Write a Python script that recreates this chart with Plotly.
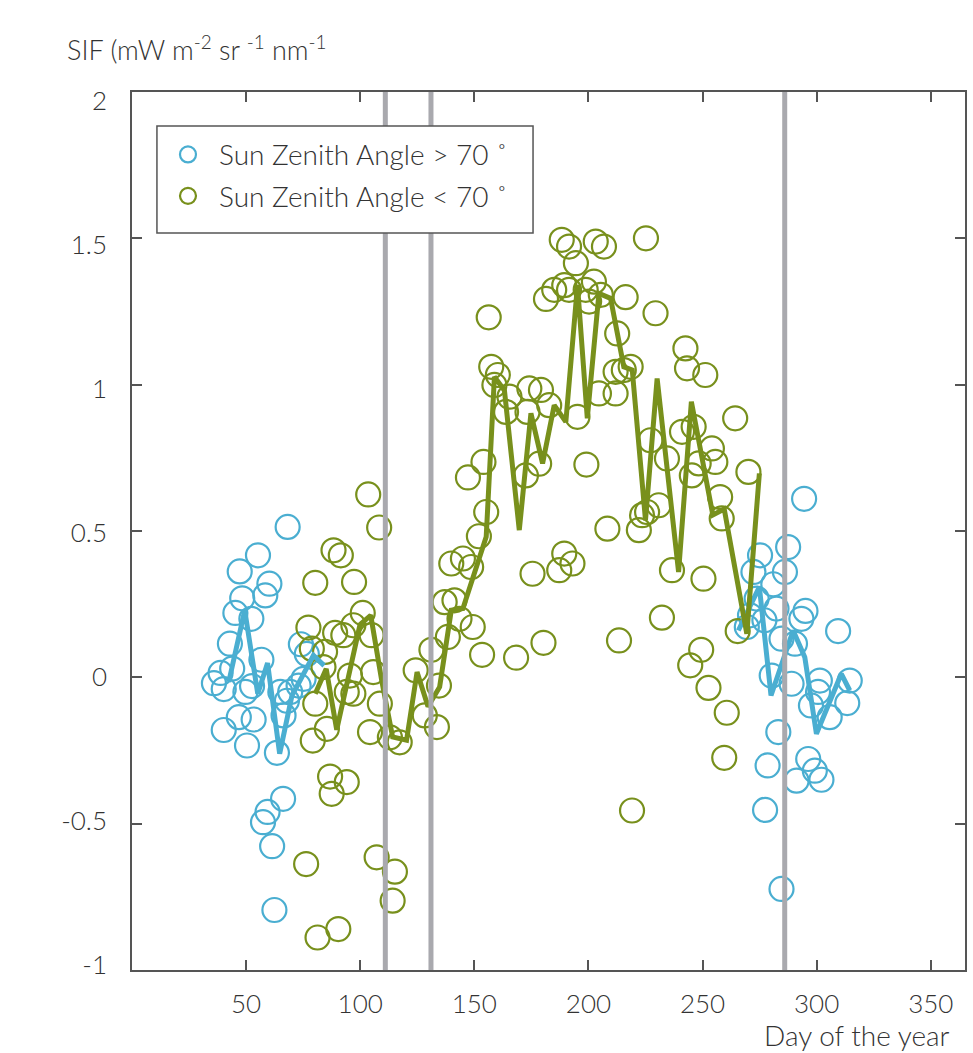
import plotly.graph_objects as go

# ---------------- data ----------------
blue_day = [68.2, 55.2, 47.2, 60.2, 58.4, 48.3, 45.3, 52.3, 42.9, 74.0, 76.6, 56.7, 43.9, 38.8,
            35.9, 40.2, 49.7, 52.6, 65.0, 69.3, 73.0, 75.2, 67.9, 46.8, 53.3, 66.4, 40.2, 50.4,
            63.5, 66.2, 59.4, 57.4, 61.4, 62.4,
            275.2, 272.3, 287.5, 286.1, 294.5, 281.0, 273.7, 282.4, 295.1, 293.3, 277.1, 270.8,
            269.4, 309.4, 284.6, 290.5, 280.3, 289.0, 301.4, 314.5, 300.6, 297.5, 313.4, 305.7,
            283.2, 296.3, 291.2, 302.1, 299.2, 278.5, 277.4, 284.6]
blue_sif = [0.514, 0.417, 0.362, 0.32, 0.28, 0.27, 0.22, 0.20, 0.115, 0.113, 0.08, 0.06, 0.03, 0.015,
            -0.02, -0.04, -0.05, -0.03, -0.05, -0.05, -0.028, -0.005, -0.08, -0.136, -0.144, -0.13, -0.18, -0.233,
            -0.258, -0.415, -0.46, -0.495, -0.577, -0.795,
            0.417, 0.36, 0.445, 0.36, 0.61, 0.318, 0.269, 0.235, 0.227, 0.20, 0.195, 0.212,
            0.172, 0.158, 0.132, 0.115, 0.006, -0.022, -0.011, -0.011, -0.05, -0.096, -0.088, -0.136,
            -0.187, -0.279, -0.353, -0.35, -0.319, -0.301, -0.453, -0.723]

green_day = [103.5, 108.3, 88.3, 91.5, 80.3, 97.3, 101.1, 77.3, 89.0, 92.6, 97.0, 105.0, 78.8, 84.6,
             95.5, 105.7, 83.9, 94.1, 97.0, 80.3, 108.6, 85.4, 104.3, 79.2, 86.8, 94.1, 87.5, 76.3,
             107.2, 115.2, 114.2, 81.3, 90.4, 117.3, 113.0, 128.3, 133.6, 124.3, 134.5, 131.2,
             138.4, 137.0, 141.3, 143.5, 149.3, 153.4, 168.3, 180.3, 213.4, 139.9, 145.0, 148.6,
             152.0, 155.2, 147.2, 154.0, 156.3, 157.4, 160.3, 158.8, 165.4, 163.9, 174.1, 179.2,
             173.3, 182.8, 172.6, 178.4, 175.5, 187.2, 189.4, 193.0, 181.4, 185.0, 188.3, 191.5,
             194.5, 203.2, 206.8, 189.4, 191.5, 198.8, 202.4, 200.3, 205.4, 195.2, 199.1, 204.6,
             211.9, 212.6, 211.9, 208.3, 216.3, 229.4, 242.5, 243.2, 251.2, 218.5, 215.5, 264.3,
             227.2, 241.0, 246.1, 234.4, 254.1, 255.6, 248.3, 245.3, 270.1, 257.7, 258.4, 230.8,
             225.7, 223.5, 222.1, 236.6, 250.4, 265.4, 249.4, 244.6, 252.6, 260.6, 259.5, 219.1,
             232.2, 225.2]
green_sif = [0.625, 0.512, 0.434, 0.417, 0.323, 0.326, 0.22, 0.17, 0.152, 0.144, 0.178, 0.144, 0.098, 0.087,
             0.006, 0.018, 0.035, -0.05, -0.056, -0.09, -0.09, -0.176, -0.187, -0.216, -0.339, -0.358, -0.398, -0.638,
             -0.615, -0.664, -0.763, -0.889, -0.86, -0.222, -0.205, -0.13, -0.17, 0.024, -0.028, 0.094,
             0.138, 0.257, 0.263, 0.20, 0.172, 0.077, 0.067, 0.118, 0.126, 0.389, 0.406, 0.377,
             0.482, 0.565, 0.683, 0.736, 1.23, 1.061, 1.033, 0.999, 0.959, 0.907, 0.987, 0.982,
             0.907, 0.93, 0.69, 0.73, 0.354, 0.366, 0.423, 0.389, 1.293, 1.324, 1.495, 1.472,
             1.415, 1.489, 1.472, 1.34, 1.324, 1.324, 1.352, 1.284, 1.307, 0.89, 0.727, 0.97,
             0.97, 1.175, 1.044, 0.508, 1.299, 1.244, 1.124, 1.056, 1.033, 1.061, 1.05, 0.885,
             0.81, 0.839, 0.856, 0.748, 0.782, 0.736, 0.731, 0.69, 0.702, 0.616, 0.543, 0.588,
             0.565, 0.554, 0.503, 0.366, 0.337, 0.158, 0.094, 0.041, -0.036, -0.121, -0.275, -0.455,
             0.204, 1.50]

# running-mean lines
blue_line1_day = [42.4, 49.4, 55.1, 59.4, 64.7, 70.1, 73.7, 79.5, 84.2]
blue_line1_sif = [-0.016, 0.229, -0.056, 0.049, -0.261, -0.062, -0.01, 0.075, 0.04]
blue_line2_day = [265.7, 274.9, 280.0, 289.7, 294.8, 299.9, 310.8, 314.5]
blue_line2_sif = [0.16, 0.309, -0.062, 0.16, 0.069, -0.193, 0.012, -0.045]

green_line_day = [80.3, 85.1, 89.7, 99.9, 104.6, 109.4, 114.2, 120.3, 124.9, 129.7, 134.8, 139.9,
                  145.0, 155.2, 158.8, 163.2, 169.7, 174.8, 179.9, 185.0, 190.1, 195.2, 199.5,
                  204.6, 209.7, 215.5, 219.2, 225.0, 230.1, 239.5, 245.1, 254.5, 259.5, 269.4, 274.9]
green_line_sif = [-0.056, 0.029, -0.179, 0.18, 0.212, -0.01, -0.204, -0.215, 0.018, -0.1, -0.033, 0.229,
                  0.235, 0.48, 1.027, 0.98, 0.503, 0.902, 0.731, 0.93, 0.873, 1.341, 0.885,
                  1.312, 1.295, 1.061, 1.05, 0.537, 1.021, 0.36, 0.942, 0.555, 0.575, 0.149, 0.697]

vline_days = [111, 131, 286]

x_ticks = [50, 100, 150, 200, 250, 300, 350]
y_ticks = [-1, -0.5, 0, 0.5, 1, 1.5, 2]
y_ticklabels = ["-1", "-0.5", "0", "0.5", "1", "1.5", "2"]

legend_names = ["Sun Zenith Angle > 70 \u02da", "Sun Zenith Angle < 70 \u02da"]

# ---------------- style ----------------
BLUE = "#4aaed1"
GREEN = "#78901c"
GREY = "#a9a9ae"
TXT = "#333333"
FONT = "Lato, 'Open Sans', sans-serif"
W8 = 300

fig = go.Figure()

fig.add_trace(go.Scatter(x=blue_day, y=blue_sif, mode="markers", name=legend_names[0],
                         legendgroup="a",
                         marker=dict(symbol="circle-open", size=24, color=BLUE,
                                     line=dict(width=2.2, color=BLUE))))
fig.add_trace(go.Scatter(x=green_day, y=green_sif, mode="markers", name=legend_names[1],
                         legendgroup="b",
                         marker=dict(symbol="circle-open", size=24, color=GREEN,
                                     line=dict(width=2.2, color=GREEN))))
for xd, yd, c in [(blue_line1_day, blue_line1_sif, BLUE), (blue_line2_day, blue_line2_sif, BLUE),
                  (green_line_day, green_line_sif, GREEN)]:
    fig.add_trace(go.Scatter(x=xd, y=yd, mode="lines", showlegend=False, hoverinfo="skip",
                             line=dict(color=c, width=5)))

# invisible trace so the label-only axis is drawn
fig.add_trace(go.Scatter(x=[None], y=[None], yaxis="y2", showlegend=False, hoverinfo="skip"))

for d in vline_days:
    fig.add_shape(type="line", xref="x", yref="paper", x0=d, x1=d, y0=0, y1=1,
                  line=dict(color=GREY, width=5), layer="above")

# legend frame (white box covering the grey lines)
fig.add_shape(type="rect", xref="paper", yref="paper",
              x0=(157 - 132) / 835, x1=(534 - 132) / 835,
              y0=(970 - 233) / 878, y1=(970 - 126) / 878,
              fillcolor="white", line=dict(color="#555555", width=1.5), layer="above")

tickfont = dict(family=FONT, size=26, color=TXT, weight=W8)
axis_common = dict(showline=True, linecolor="#555555", linewidth=1.5, mirror="ticks",
                   ticks="inside", ticklen=10, tickwidth=1.5, tickcolor="#555555",
                   showgrid=False, zeroline=False, tickfont=tickfont)

fig.update_layout(
    xaxis=dict(range=[0, 365], tickvals=x_ticks, ticklabelstandoff=10, **axis_common),
    yaxis=dict(range=[-1, 2], tickvals=y_ticks, showticklabels=False, **axis_common),
    # label-only axis: the original figure's labels sit on a slightly tighter spacing
    yaxis2=dict(overlaying="y", side="left", anchor="x", range=[-1.0163, 2.0302],
                tickvals=y_ticks, ticktext=y_ticklabels, showline=False, ticks="",
                showgrid=False, zeroline=False, tickfont=tickfont, ticklabelstandoff=24),
)

fig.add_annotation(text="SIF (mW m<sup>-2</sup> sr <sup>-1</sup> nm<sup>-1</sup>",
                   xref="paper", yref="paper", x=-0.081, y=1.05, xanchor="left", yanchor="middle",
                   showarrow=False, font=dict(family=FONT, size=27, color=TXT, weight=W8))
fig.add_annotation(text="Day of the year", xref="paper", yref="paper", x=0.984, y=-0.0745,
                   xanchor="right", yanchor="middle", showarrow=False,
                   font=dict(family=FONT, size=28, color=TXT, weight=W8))

fig.update_layout(
    width=973, height=1053,
    margin=dict(l=132, r=6, t=92, b=83),
    paper_bgcolor="white", plot_bgcolor="white",
    showlegend=True,
    legend=dict(x=0.03, y=0.957, xanchor="left", yanchor="top",
                bgcolor="rgba(0,0,0,0)", borderwidth=0,
                font=dict(family=FONT, size=28, color=TXT, weight=W8),
                itemwidth=52, tracegroupgap=2, itemsizing="trace"),
)

fig.write_html("out.html")
